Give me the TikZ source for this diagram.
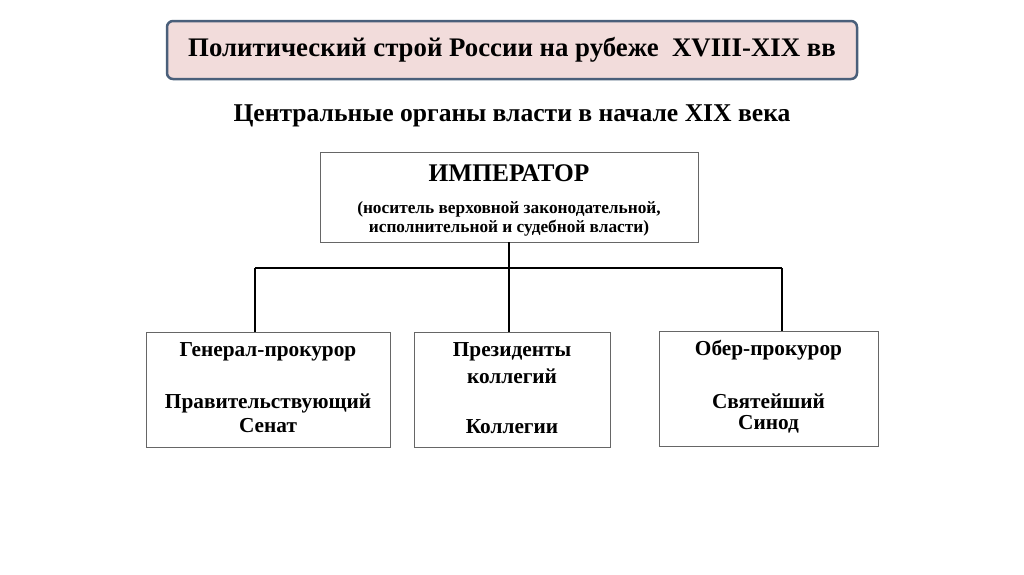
\documentclass[tikz,border=0pt]{standalone}
\usepackage{fontspec}
\setmainfont{Liberation Serif}
\begin{document}
\begin{tikzpicture}[x=1pt,y=-1pt,
  box/.style={draw=black!60,line width=0.8pt,fill=white},
  conn/.style={line width=2.6pt},
  t/.style={font=\bfseries\fontsize{21.3}{24}\selectfont,anchor=center}]
\useasboundingbox (0,0) rectangle (1024,574);
\definecolor{titlefill}{HTML}{F2DCDB}
\definecolor{titledraw}{HTML}{4A5F7A}
\node[draw=titledraw,line width=2.5pt,fill=titlefill,rounded corners=6pt,minimum width=690pt,minimum height=58pt,font=\bfseries\fontsize{26.8}{30}\selectfont] (title) at (512,50) {Политический строй России на рубеже \ XVIII-XIX вв};
\node[font=\bfseries\fontsize{25.6}{30}\selectfont] (sub) at (512,116) {Центральные органы власти в начале XIX века};
\node[box,minimum width=378pt,minimum height=90pt] (emp) at (509,197) {};
\node[font=\bfseries\fontsize{25.4}{30}\selectfont] (empt) at (509,173) {ИМПЕРАТОР};
\node[font=\bfseries\fontsize{17.3}{19}\selectfont,align=center] (empd) at (509,219) {(носитель верховной законодательной,\\исполнительной и судебной власти)};
\node[box,minimum width=244pt,minimum height=115pt] (l) at (268,389.5) {};
\node[box,minimum width=196pt,minimum height=115pt] (m) at (512,389.5) {};
\node[box,minimum width=219pt,minimum height=115pt] (r) at (768.5,388.5) {};
\coordinate (jl) at (255,268);
\coordinate (jr) at (782,268);
\coordinate (jm) at (509,268);
\draw[conn] (jl) -- (jr);
\draw[conn] (emp.south) -- (jm) -- (jm |- m.north);
\draw[conn] (jl) -- (jl |- l.north);
\draw[conn] (jr) -- (jr |- r.north);
\node[t] at (268,352) {Генерал-прокурор};
\node[t] at (268,403) {Правительствующий};
\node[t] at (268,426) {Сенат};
\node[t] at (512,352) {Президенты};
\node[t] at (512,376) {коллегий};
\node[t] at (512,427) {Коллегии};
\node[t] at (768.5,350) {Обер-прокурор};
\node[t] at (768.5,401) {Святейший};
\node[t] at (768.5,424) {Синод};
\end{tikzpicture}
\end{document}
